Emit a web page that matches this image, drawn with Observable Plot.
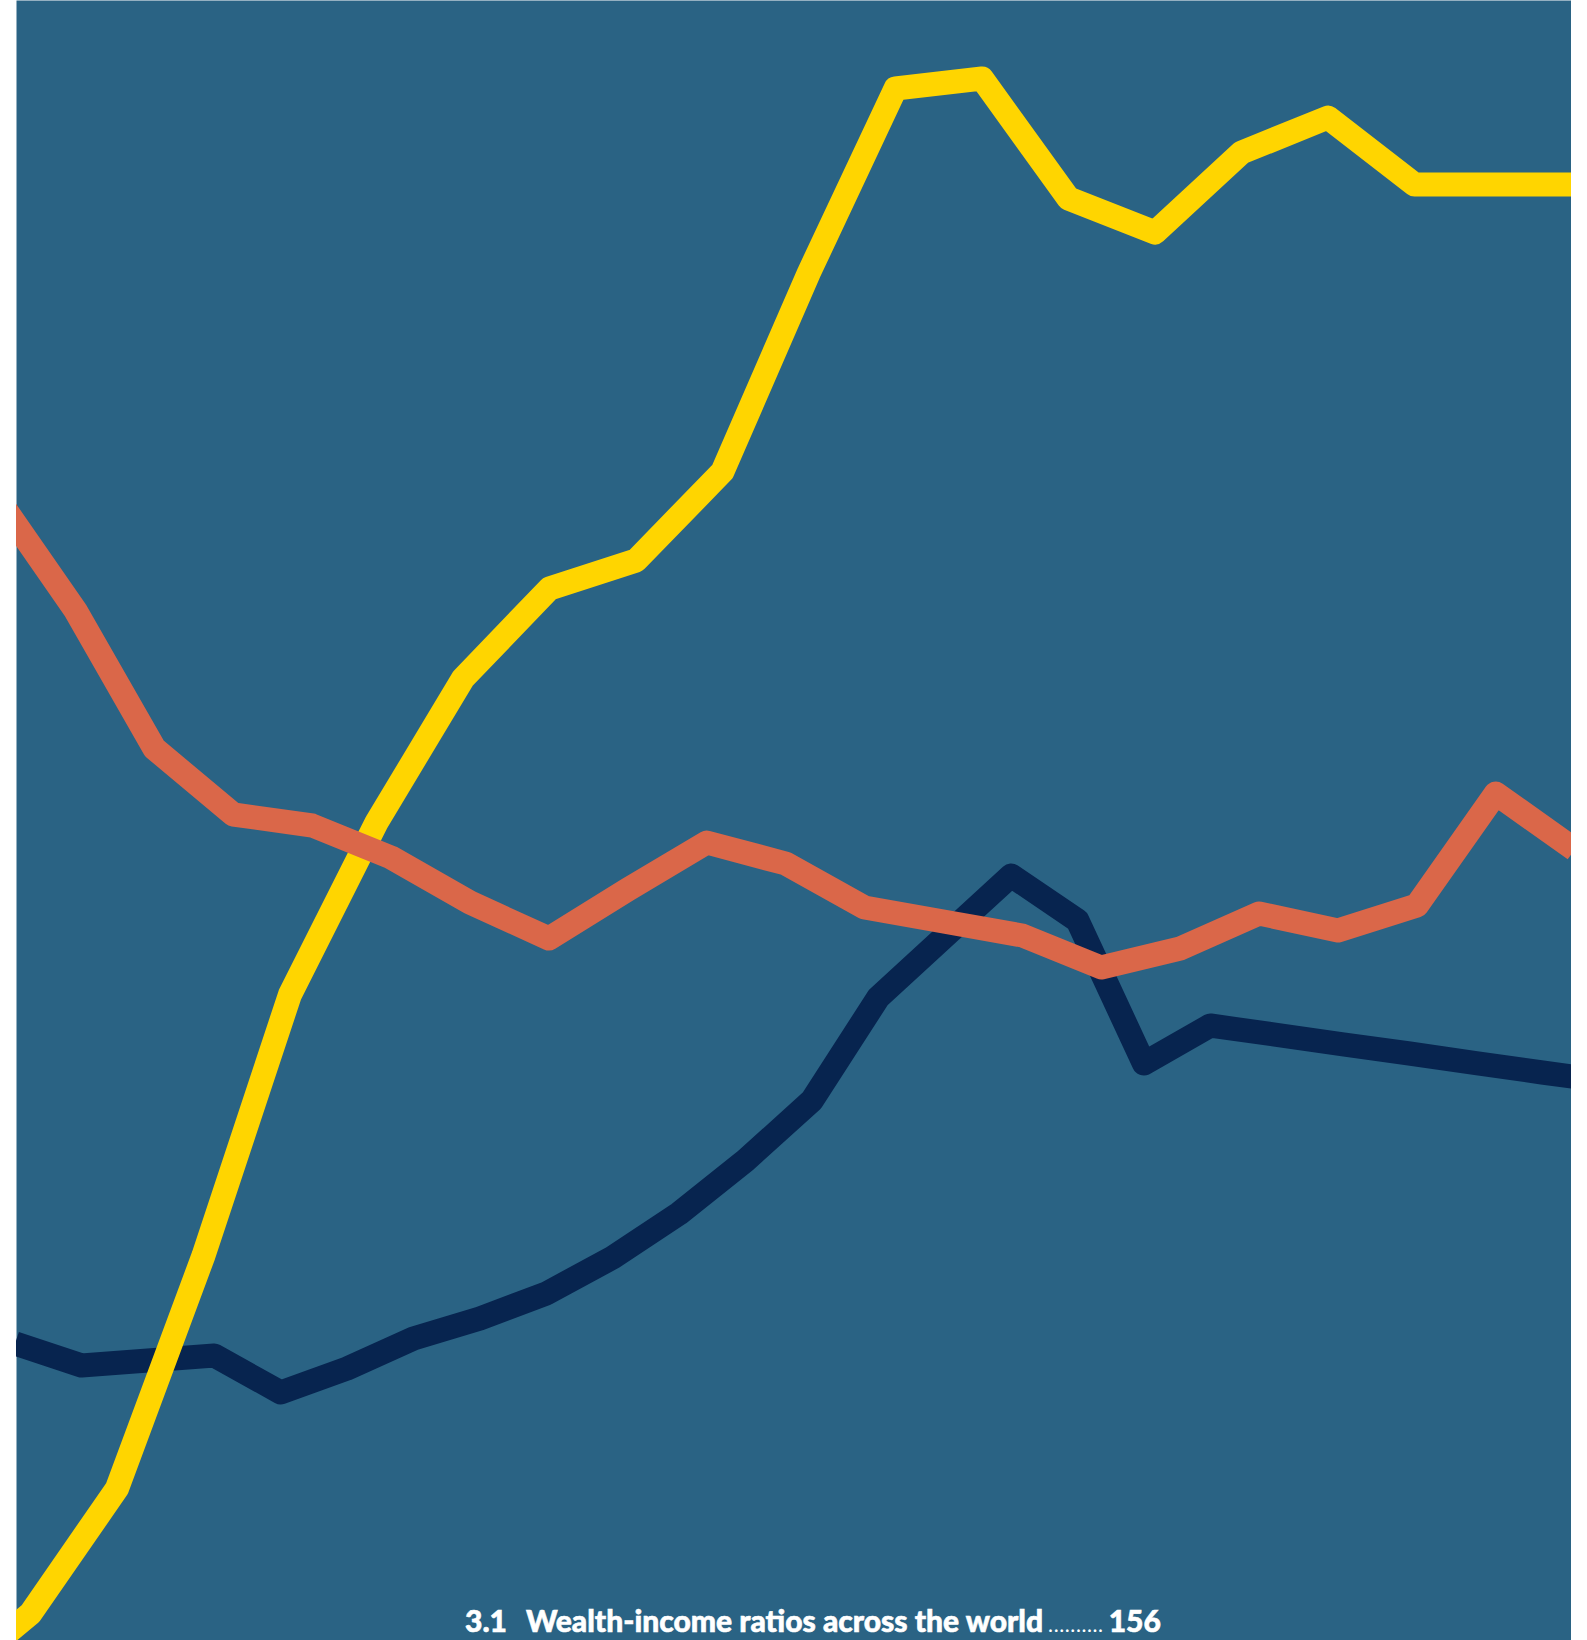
<!DOCTYPE html>
<html>
<head>
<meta charset="utf-8">
<script src="https://cdn.jsdelivr.net/npm/d3@7"></script>
<script src="https://cdn.jsdelivr.net/npm/@observablehq/plot@0.6"></script>
<style>
  html, body { margin: 0; padding: 0; background: #ffffff; }
  #page { position: relative; width: 1587px; height: 1640px; background: #ffffff; overflow: hidden; }
  #panel { position: absolute; left: 16px; top: 0; width: 1555px; height: 1640px; overflow: hidden; }
  #panel svg { position: absolute; left: 0; top: 0; background: transparent !important; }
  #caption { position: absolute; left: 465px; top: 1602px; white-space: nowrap;
             font-family: Lato, "Open Sans", sans-serif; color: #ffffff; line-height: 36px; }
  #caption .num, #caption .title, #caption .page { font-weight: 900; font-size: 30px; -webkit-text-stroke: 0.6px #ffffff; }
  #caption .num { margin-right: 19px; }
  #caption .dots { font-weight: 400; font-size: 21px; margin: 0 5px 0 5px; letter-spacing: 0.6px; }
</style>
</head>
<body>
<div id="page">
  <div id="panel"></div>
  <div id="caption"><span class="num">3.1</span><span class="title">Wealth-income ratios across the world</span><span class="dots">..........</span><span class="page">156</span></div>
</div>
<script>
// Wealth-income ratio style series (values in %)
const yellowValues = [-22.5, 13.5, 76, 192.5, 323, 409, 481, 526, 540, 584.5, 684, 776, 781, 721, 704, 744, 761.5, 728, 728, 728];
const orangeValues = [571.8, 515, 446, 413, 407.5, 391.5, 369, 351, 375.5, 399, 388.5, 366.5, 359.5, 352.5, 336.5, 346, 363.5, 355, 367.5, 423.5, 395.5];
const navyValues = [148.5, 137.5, 140, 142.5, 124, 136, 151, 161, 173.5, 191.5, 213.5, 240, 270, 321.5, 352, 382.5, 360, 288.5, 307.5, 302.8, 298.1, 293.5, 288.7, 284, 279.4];

const seriesColors = { yellow: "#ffd500", orange: "#da6749", navy: "#07244f" };
const background = "#2a6384";

const W = 1555, H = 1640;
const yDomain = [0, 820];

function toRows(values) { return values.map((v, i) => ({ step: i, value: v })); }

function layer(values, color, xDomain, withFrame) {
  const marks = [];
  if (withFrame) marks.push(Plot.frame({ fill: background, stroke: null }));
  marks.push(Plot.lineY(toRows(values), {
    x: "step", y: "value", stroke: color, strokeWidth: 24,
    strokeLinejoin: "round", strokeLinecap: "butt", clip: true
  }));
  return Plot.plot({
    width: W, height: H,
    marginLeft: 0, marginRight: 0, marginTop: 0, marginBottom: 0,
    x: { type: "linear", domain: xDomain, axis: null },
    y: { type: "linear", domain: yDomain, axis: null },
    style: { background: "transparent", overflow: "hidden" },
    marks
  });
}

const panel = document.getElementById("panel");
// drawing order: navy (bottom), yellow, orange (top)
panel.appendChild(layer(navyValues, seriesColors.navy, [0.021, 23.44], true));
panel.appendChild(layer(yellowValues, seriesColors.yellow, [0.838, 18.815], false));
panel.appendChild(layer(orangeValues, seriesColors.orange, [0.252, 19.96], false));
</script>
</body>
</html>
